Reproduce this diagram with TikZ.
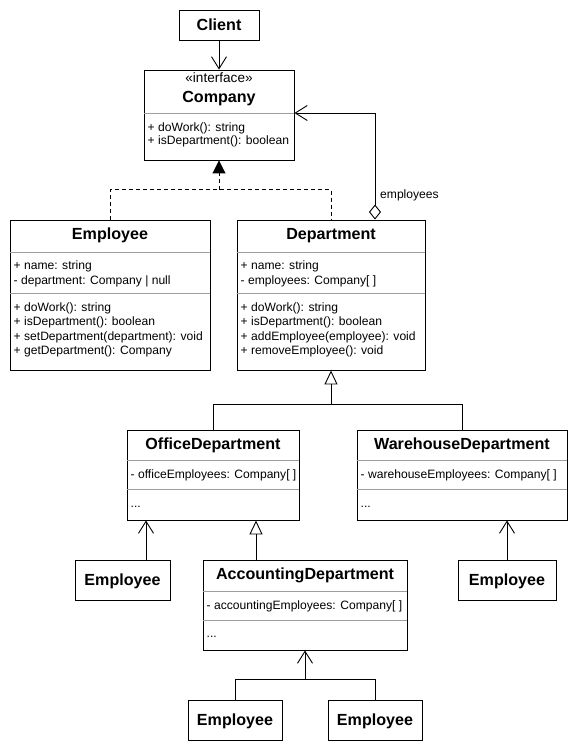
\documentclass[tikz,border=0pt]{standalone}
\usepackage{fontspec}
\setmainfont{Liberation Sans}
\usetikzlibrary{arrows.meta}
\begin{document}
\begin{tikzpicture}[x=1pt,y=-1pt,
  box/.style={draw=black, line width=0.9pt, inner sep=0pt, fill=white},
  ttl/.style={anchor=base, inner sep=0pt, font=\fontsize{16.1}{19}\selectfont\bfseries},
  mem/.style={anchor=base west, inner sep=0pt, font=\fontsize{12.1}{14}\selectfont},
  stereo/.style={anchor=base, inner sep=0pt, font=\fontsize{13.6}{16}\selectfont},
  sepline/.style={draw=black!38, line width=0.9pt},
  conn/.style={draw=black, line width=0.9pt},
  dsh/.style={dash pattern=on 4pt off 3pt},
  barb/.style={conn, -{Straight Barb[length=12pt,width=15pt]}},
  gen/.style={conn, -{Triangle[open,length=14pt,width=13pt]}},
  real/.style={conn, dsh, -{Triangle[length=13pt,width=13pt]}},
]
\useasboundingbox (0,0) rectangle (579,751);

% boxes
\node[box, minimum width=80pt, minimum height=30pt] (client) at (219,25) {};
\node[box, minimum width=150pt, minimum height=90pt] (company) at (219,115) {};
\node[box, minimum width=200pt, minimum height=150pt] (emp) at (110,295) {};
\node[box, minimum width=188pt, minimum height=150pt] (dept) at (331,295) {};
\node[box, minimum width=172pt, minimum height=90pt] (office) at (213,475) {};
\node[box, minimum width=210pt, minimum height=90pt] (ware) at (462,475) {};
\node[box, minimum width=95pt, minimum height=40pt] (empa) at (122.5,580) {};
\node[box, minimum width=204pt, minimum height=90pt] (acc) at (305,605) {};
\node[box, minimum width=98pt, minimum height=40pt] (empb) at (507,580) {};
\node[box, minimum width=94pt, minimum height=40pt] (empc) at (235,720) {};
\node[box, minimum width=94pt, minimum height=40pt] (empd) at (375,720) {};

% separators
\draw[sepline] (company.west |- 0,113) -- (company.east |- 0,113);
\draw[sepline] (emp.west |- 0,252) -- (emp.east |- 0,252);
\draw[sepline] (emp.west |- 0,293) -- (emp.east |- 0,293);
\draw[sepline] (dept.west |- 0,252) -- (dept.east |- 0,252);
\draw[sepline] (dept.west |- 0,293) -- (dept.east |- 0,293);
\draw[sepline] (office.west |- 0,460) -- (office.east |- 0,460);
\draw[sepline] (office.west |- 0,489) -- (office.east |- 0,489);
\draw[sepline] (ware.west |- 0,460) -- (ware.east |- 0,460);
\draw[sepline] (ware.west |- 0,489) -- (ware.east |- 0,489);
\draw[sepline] (acc.west |- 0,591) -- (acc.east |- 0,591);
\draw[sepline] (acc.west |- 0,620) -- (acc.east |- 0,620);

% titles
\node[ttl] (tclient) at (219,30.8) {Client};
\node[stereo] (tstereo) at (219,82.5) {«interface»};
\node[ttl] (tcompany) at (219,102.8) {Company};
\node[ttl] (temp) at (110,239.8) {Employee};
\node[ttl] (tdept) at (331,239.8) {Department};
\node[ttl] (toffice) at (213,449.3) {OfficeDepartment};
\node[ttl] (tware) at (462,449.3) {WarehouseDepartment};
\node[ttl] (tempa) at (122.5,585.8) {Employee};
\node[ttl] (tacc) at (305,579.3) {AccountingDepartment};
\node[ttl] (tempb) at (507,585.8) {Employee};
\node[ttl] (tempc) at (235,725.8) {Employee};
\node[ttl] (tempd) at (375,725.8) {Employee};

% members: Company
\node[mem] (c1) at (147.5,131.3) {+ doWork(): string};
\node[mem] (c2) at (147.5,144.8) {+ isDepartment(): boolean};
% Employee
\node[mem] (e1) at (13.5,269.8) {+ name: string};
\node[mem] (e2) at (13.5,284.3) {- department: Company | null};
\node[mem] (e3) at (13.5,311.3) {+ doWork(): string};
\node[mem] (e4) at (13.5,325.8) {+ isDepartment(): boolean};
\node[mem] (e5) at (13.5,340.3) {+ setDepartment(department): void};
\node[mem] (e6) at (13.5,354.8) {+ getDepartment(): Company};
% Department
\node[mem] (d1) at (240.5,269.8) {+ name: string};
\node[mem] (d2) at (240.5,284.3) {- employees: Company[ ]};
\node[mem] (d3) at (240.5,311.3) {+ doWork(): string};
\node[mem] (d4) at (240.5,325.8) {+ isDepartment(): boolean};
\node[mem] (d5) at (240.5,340.3) {+ addEmployee(employee): void};
\node[mem] (d6) at (240.5,354.8) {+ removeEmployee(): void};
% Office / Warehouse / Accounting
\node[mem] (o1) at (130.5,478.8) {- officeEmployees: Company[ ]};
\node[mem] (o2) at (130.5,507) {...};
\node[mem] (w1) at (360.5,478.8) {- warehouseEmployees: Company[ ]};
\node[mem] (w2) at (360.5,507) {...};
\node[mem] (a1) at (206.5,609.8) {- accountingEmployees: Company[ ]};
\node[mem] (a2) at (206.5,637) {...};

% connectors
\draw[barb] (client) -- (company);

\draw[conn, {Diamond[open,length=15pt,width=12pt]}-{Straight Barb[length=12pt,width=15pt]}]
  ([xshift=44pt]dept.north) |- ([yshift=2pt]company.east);
\node[mem] (lblemp) at (380,199) {employees};

\coordinate (rj) at (219,190);
\draw[conn, dsh] (emp.north) -- ++(0,-30) -| (dept.north);
\draw[real] (rj) -- (company.south);

\coordinate (gj) at (331,405);
\draw[conn] (office.north) -- ++(0,-25) -| (ware.north);
\draw[gen] (gj) -- (dept.south);

\path ([xshift=23.5pt]empa.north) coordinate (pa);
\draw[barb] (pa) -- (pa |- office.south);
\path ([xshift=-49pt]acc.north) coordinate (pb);
\draw[gen] (pb) -- (pb |- office.south);
\draw[barb] (empb.north) -- (empb.north |- ware.south);

\coordinate (bj) at (305,680);
\draw[conn] (empc.north) -- ++(0,-20) -| (empd.north);
\draw[barb] (bj) -- (acc.south);
\end{tikzpicture}
\end{document}
